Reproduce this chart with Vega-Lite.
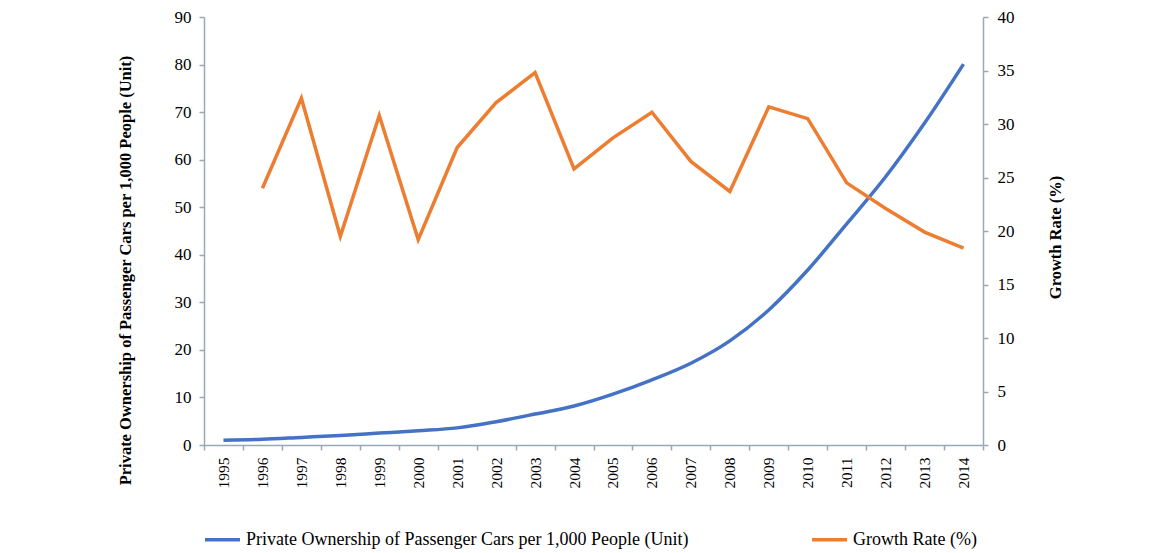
{
  "$schema": "https://vega.github.io/schema/vega-lite/v6.json",
  "autosize": {"type": "none"},
  "width": 779,
  "height": 428,
  "padding": {"left": 204, "top": 17, "right": 181, "bottom": 108},
  "background": "white",
  "config": {
    "view": {"stroke": null},
    "font": "Liberation Serif",
    "axis": {
      "labelFont": "Liberation Serif",
      "titleFont": "Liberation Serif",
      "labelColor": "#000000",
      "titleColor": "#000000",
      "domainColor": "#9aa8b6",
      "tickColor": "#9aa8b6",
      "domainWidth": 1.5,
      "tickWidth": 1.5,
      "tickSize": 5,
      "grid": false
    }
  },
  "data": {
    "values": [
      {"year": "1995", "series": "Private Ownership of Passenger Cars per 1,000 People (Unit)", "value": 1.0},
      {"year": "1996", "series": "Private Ownership of Passenger Cars per 1,000 People (Unit)", "value": 1.2},
      {"year": "1997", "series": "Private Ownership of Passenger Cars per 1,000 People (Unit)", "value": 1.6},
      {"year": "1998", "series": "Private Ownership of Passenger Cars per 1,000 People (Unit)", "value": 2.0},
      {"year": "1999", "series": "Private Ownership of Passenger Cars per 1,000 People (Unit)", "value": 2.5},
      {"year": "2000", "series": "Private Ownership of Passenger Cars per 1,000 People (Unit)", "value": 3.0},
      {"year": "2001", "series": "Private Ownership of Passenger Cars per 1,000 People (Unit)", "value": 3.6},
      {"year": "2002", "series": "Private Ownership of Passenger Cars per 1,000 People (Unit)", "value": 4.9},
      {"year": "2003", "series": "Private Ownership of Passenger Cars per 1,000 People (Unit)", "value": 6.5},
      {"year": "2004", "series": "Private Ownership of Passenger Cars per 1,000 People (Unit)", "value": 8.2},
      {"year": "2005", "series": "Private Ownership of Passenger Cars per 1,000 People (Unit)", "value": 10.7},
      {"year": "2006", "series": "Private Ownership of Passenger Cars per 1,000 People (Unit)", "value": 13.7},
      {"year": "2007", "series": "Private Ownership of Passenger Cars per 1,000 People (Unit)", "value": 17.2},
      {"year": "2008", "series": "Private Ownership of Passenger Cars per 1,000 People (Unit)", "value": 21.9},
      {"year": "2009", "series": "Private Ownership of Passenger Cars per 1,000 People (Unit)", "value": 28.4},
      {"year": "2010", "series": "Private Ownership of Passenger Cars per 1,000 People (Unit)", "value": 36.8},
      {"year": "2011", "series": "Private Ownership of Passenger Cars per 1,000 People (Unit)", "value": 46.5},
      {"year": "2012", "series": "Private Ownership of Passenger Cars per 1,000 People (Unit)", "value": 56.4},
      {"year": "2013", "series": "Private Ownership of Passenger Cars per 1,000 People (Unit)", "value": 67.7},
      {"year": "2014", "series": "Private Ownership of Passenger Cars per 1,000 People (Unit)", "value": 80.1},
      {"year": "1996", "series": "Growth Rate (%)", "value": 24.0},
      {"year": "1997", "series": "Growth Rate (%)", "value": 32.4},
      {"year": "1998", "series": "Growth Rate (%)", "value": 19.5},
      {"year": "1999", "series": "Growth Rate (%)", "value": 30.8},
      {"year": "2000", "series": "Growth Rate (%)", "value": 19.2},
      {"year": "2001", "series": "Growth Rate (%)", "value": 27.8},
      {"year": "2002", "series": "Growth Rate (%)", "value": 32.0},
      {"year": "2003", "series": "Growth Rate (%)", "value": 34.8},
      {"year": "2004", "series": "Growth Rate (%)", "value": 25.8},
      {"year": "2005", "series": "Growth Rate (%)", "value": 28.7},
      {"year": "2006", "series": "Growth Rate (%)", "value": 31.1},
      {"year": "2007", "series": "Growth Rate (%)", "value": 26.5},
      {"year": "2008", "series": "Growth Rate (%)", "value": 23.7},
      {"year": "2009", "series": "Growth Rate (%)", "value": 31.6},
      {"year": "2010", "series": "Growth Rate (%)", "value": 30.5},
      {"year": "2011", "series": "Growth Rate (%)", "value": 24.5},
      {"year": "2012", "series": "Growth Rate (%)", "value": 22.1},
      {"year": "2013", "series": "Growth Rate (%)", "value": 19.9},
      {"year": "2014", "series": "Growth Rate (%)", "value": 18.4}
    ]
  },
  "encoding": {
    "x": {
      "field": "year",
      "type": "ordinal",
      "scale": {"type": "band", "paddingInner": 0, "paddingOuter": 0},
      "axis": {
        "title": null,
        "labelAngle": -90,
        "labelAlign": "right",
        "labelBaseline": "middle",
        "labelFontSize": 15.5,
        "labelPadding": 7,
        "tickBand": "extent"
      }
    },
    "color": {
      "field": "series",
      "type": "nominal",
      "scale": {
        "domain": ["Private Ownership of Passenger Cars per 1,000 People (Unit)", "Growth Rate (%)"],
        "range": ["#4472C4", "#ED7D31"]
      },
      "legend": {
        "title": null,
        "orient": "none",
        "legendX": -1,
        "legendY": 503,
        "direction": "horizontal",
        "symbolType": "stroke",
        "symbolSize": 1225,
        "symbolStrokeWidth": 3.5,
        "labelFont": "Liberation Serif",
        "labelFontSize": 18,
        "labelColor": "#000000",
        "labelLimit": 700,
        "labelOffset": 4,
        "columnPadding": 116,
        "padding": 0
      }
    }
  },
  "layer": [
    {
      "transform": [{"filter": "datum.series === 'Private Ownership of Passenger Cars per 1,000 People (Unit)'"}],
      "mark": {"type": "line", "strokeWidth": 3.5, "interpolate": "monotone"},
      "encoding": {
        "y": {
          "field": "value",
          "type": "quantitative",
          "scale": {"domain": [0, 90], "nice": false},
          "axis": {
            "title": "Private Ownership of Passenger Cars per 1,000 People (Unit)",
            "values": [0, 10, 20, 30, 40, 50, 60, 70, 80, 90],
            "labelFontSize": 17,
            "labelPadding": 8,
            "titleFontSize": 16.5,
            "titleFontWeight": "bold",
            "titleX": -79,
            "titleY": 253,
            "titleAngle": -90,
            "titleAlign": "center",
            "titleBaseline": "middle"
          }
        }
      }
    },
    {
      "transform": [{"filter": "datum.series === 'Growth Rate (%)'"}],
      "mark": {"type": "line", "strokeWidth": 3.5},
      "encoding": {
        "y": {
          "field": "value",
          "type": "quantitative",
          "scale": {"domain": [0, 40], "nice": false},
          "axis": {
            "orient": "right",
            "title": "Growth Rate (%)",
            "values": [0, 5, 10, 15, 20, 25, 30, 35, 40],
            "labelFontSize": 17,
            "labelPadding": 9,
            "titleFontSize": 16.5,
            "titleFontWeight": "bold",
            "titleX": 72,
            "titleY": 220,
            "titleAngle": -90,
            "titleAlign": "center",
            "titleBaseline": "middle"
          }
        }
      }
    }
  ],
  "resolve": {"scale": {"y": "independent"}}
}
